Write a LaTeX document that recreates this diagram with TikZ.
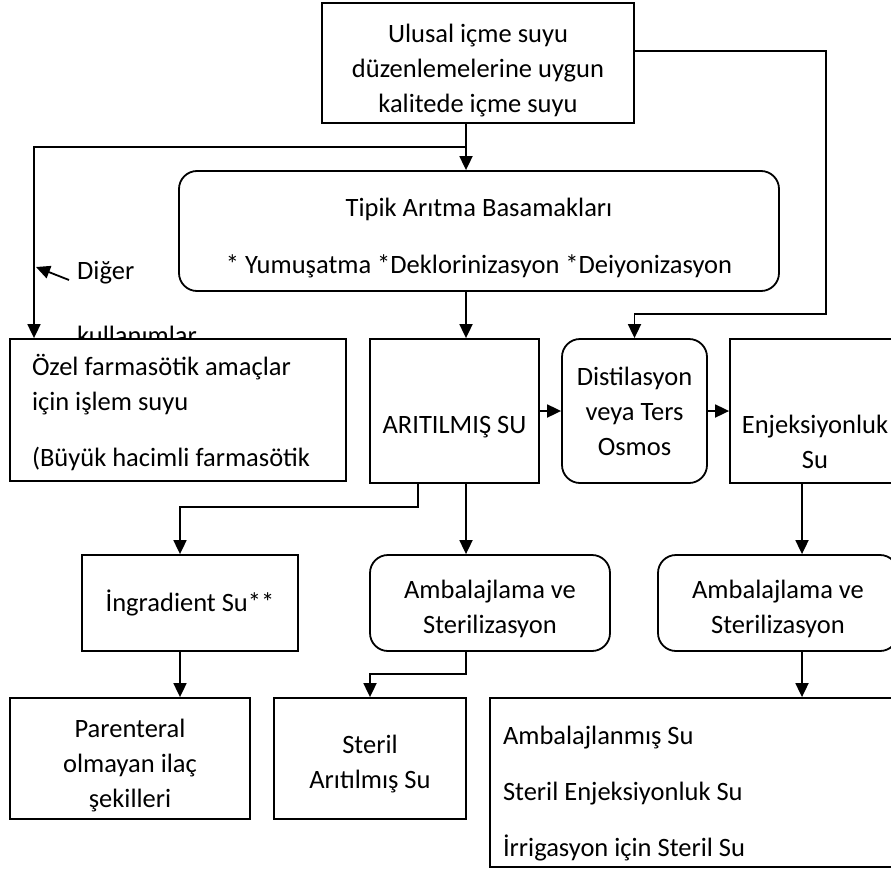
\documentclass[tikz,border=0pt]{standalone}
\usepackage{fontspec}
\setmainfont{Carlito}
\usepackage{tikz}
\usetikzlibrary{arrows.meta}
\tikzset{
  box/.style={draw,line width=1.8pt,rectangle,align=flush center,inner sep=0pt,fill=white,
    font=\fontsize{26.5}{35}\selectfont},
  rbox/.style={box,rounded corners=18pt},
  lbox/.style={box,align=flush left},
  txtdrop/.style={execute at begin node={\rule{0pt}{#1}}},
  txt/.style={inner sep=0pt,font=\fontsize{26.5}{35}\selectfont},
  conn/.style={line width=1.8pt},
  arr/.style={conn,-{Triangle[width=13pt,length=14pt]}}
}

\begin{document}
\begin{tikzpicture}[x=1pt,y=-1pt]
  \useasboundingbox (0,0) rectangle (891,870);
  \clip (0,0) rectangle (891,870);
  % Top: drinking water + treatment
  \node[box,txtdrop=33.5pt,text width=312pt,minimum height=120pt] (ulusal) at (478,63)
    {Ulusal içme suyu\\düzenlemelerine uygun\\kalitede içme suyu};
  \node[rbox,txtdrop=31.5pt,text width=600pt,minimum height=120pt] (tipik) at (479,231)
    {Tipik Arıtma Basamakları\\[22pt]* Yumuşatma *Deklorinizasyon *Deiyonizasyon};
  % Other uses label
  \node[txt,anchor=base west] (diger) at (77,279) {Diğer};
  \node[txt,anchor=base west] (kullanim) at (77,344) {kullanımlar};
  % Middle row
  \node[lbox,txtdrop=27pt,text width=292pt,inner xsep=22pt,minimum height=142pt] (ozel) at (178,410)
    {Özel farmasötik amaçlar\\için işlem suyu\\[21pt](Büyük hacimli farmasötik};
  \node[box,txtdrop=50pt,text width=169pt,minimum height=144pt]
    (aritilmis) at (454.5,411) {ARITILMIŞ SU};
  \node[rbox,text width=145pt,minimum height=144pt] (distil) at (634.5,411)
    {Distilasyon\\veya Ters\\Osmos};
  \node[box,minimum width=170pt,minimum height=144pt] (enj) at (815,411) {};
  \node[txt,align=center] (enjtxt) at ([shift={(0,31)}]enj.center) {Enjeksiyonluk\\Su};
  % Packaging row
  \node[box,text width=216pt,minimum height=96pt] (ingr) at (190,603) {İngradient Su**};
  \node[rbox,txtdrop=29.5pt,text width=240pt,minimum height=96pt] (amb1) at (490,603)
    {Ambalajlama ve\\Sterilizasyon};
  \node[rbox,txtdrop=29.5pt,text width=240pt,minimum height=96pt] (amb2) at (778,603)
    {Ambalajlama ve\\Sterilizasyon};
  % Bottom row
  \node[box,txtdrop=33pt,text width=240pt,minimum height=121pt] (parent) at (130,758.5)
    {Parenteral\\olmayan ilaç\\şekilleri};
  \node[box,txtdrop=28.5pt,text width=192pt,minimum height=121pt] (steril) at (370,758.5)
    {Steril\\Arıtılmış Su};
  \node[lbox,txtdrop=41pt,text width=389pt,inner xsep=13pt,minimum height=169pt] (paket) at (697.5,782.5)
    {Ambalajlanmış Su\\[21pt]Steril Enjeksiyonluk Su\\[21pt]İrrigasyon için Steril Su};
  % Bend points
  \coordinate (j1) at (466,147);
  \coordinate (j2) at (34,147);
  \coordinate (dtip) at (36,267);
  \coordinate (c1) at (826,51);
  \coordinate (c2) at (826,314);
  \coordinate (e1) at (418,507);
  \coordinate (e2) at (180,507);
  \coordinate (k1) at (802,520);
  \coordinate (s1) at (466,674);
  \coordinate (s2) at (370,674);
  % Connectors
  \draw[arr] (ulusal.south -| j1) -- (tipik.north -| j1);
  \draw[arr] (j1) -- (j2) -- (ozel.north -| j2);
  \draw[arr] ([shift={(-8,1)}]diger.base west) -- (dtip);
  \draw[arr] (ulusal.east |- c1) -- (c1) -- (c2) -- (c2 -| distil.north) -- (distil.north);
  \draw[arr] (tipik.south -| j1) -- (aritilmis.north -| j1);
  \draw[arr] (aritilmis.east) -- (distil.west);
  \draw[arr] (distil.east) -- (enj.west);
  \draw[arr] (aritilmis.south -| e1) -- (e1) -- (e2) -- (ingr.north -| e2);
  \draw[arr] (aritilmis.south -| j1) -- (amb1.north -| j1);
  \draw[arr] (enj.south -| k1) -- (amb2.north -| k1);
  \draw[arr] (ingr.south -| e2) -- (parent.north -| e2);
  \draw[arr] (amb1.south -| s1) -- (s1) -- (s2) -- (steril.north -| s2);
  \draw[arr] (amb2.south -| k1) -- (paket.north -| k1);
\end{tikzpicture}
\end{document}
